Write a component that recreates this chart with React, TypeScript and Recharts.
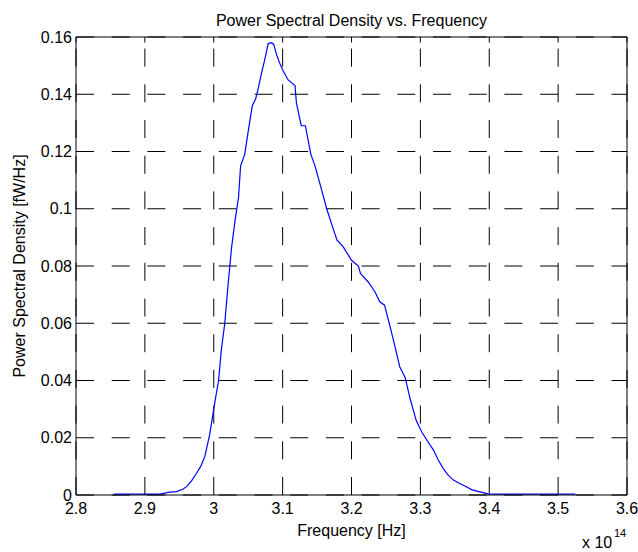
import React from "react";
import { LineChart, Line, XAxis, YAxis, CartesianGrid, ReferenceLine } from "recharts";

const freq = [
  2.855, 2.88, 2.9, 2.92, 2.925, 2.936, 2.946, 2.955, 2.961, 2.968, 2.975, 2.981, 2.987, 2.994,
  3.002, 3.007, 3.011, 3.016, 3.021, 3.026, 3.031, 3.036, 3.039, 3.045, 3.05, 3.056, 3.061, 3.065,
  3.069, 3.074, 3.079, 3.084, 3.087, 3.091, 3.096, 3.101, 3.108, 3.118, 3.12, 3.127, 3.133, 3.141,
  3.147, 3.155, 3.164, 3.172, 3.179, 3.188, 3.2, 3.21, 3.213, 3.224, 3.234, 3.241, 3.248, 3.256,
  3.263, 3.27, 3.278, 3.285, 3.294, 3.302, 3.311, 3.319, 3.326, 3.333, 3.34, 3.348, 3.357, 3.366,
  3.375, 3.385, 3.398, 3.41, 3.45, 3.5, 3.525,
];
const psd = [
  0.0003, 0.0003, 0.0003, 0.0003, 0.0005, 0.001, 0.0012, 0.002, 0.003, 0.005, 0.0076, 0.01, 0.0134, 0.021,
  0.033, 0.04, 0.0506, 0.06, 0.074, 0.0867, 0.096, 0.104, 0.115, 0.119, 0.127, 0.136, 0.1385, 0.1425,
  0.147, 0.152, 0.1577, 0.158, 0.1574, 0.154, 0.1507, 0.148, 0.145, 0.143, 0.137, 0.129, 0.129, 0.119,
  0.115, 0.108, 0.1, 0.094, 0.089, 0.0867, 0.082, 0.08, 0.0774, 0.0745, 0.071, 0.0675, 0.0663, 0.0588,
  0.052, 0.0448, 0.041, 0.0337, 0.026, 0.022, 0.0186, 0.0157, 0.0122, 0.0093, 0.007, 0.0052, 0.004, 0.003,
  0.0018, 0.0012, 0.0004, 0.0003, 0.0003, 0.0003, 0.0003,
];
const xTicks = [2.8, 2.9, 3.0, 3.1, 3.2, 3.3, 3.4, 3.5, 3.6];
const yTicks = [0, 0.02, 0.04, 0.06, 0.08, 0.1, 0.12, 0.14, 0.16];

const title = "Power Spectral Density vs. Frequency";
const xLabel = "Frequency [Hz]";
const yLabel = "Power Spectral Density [fW/Hz]";
const exponent = "14";

const data = freq.map((f, i) => ({ f, p: psd[i] }));

const FONT = "'Liberation Sans', Arial, sans-serif";
const FS = 16;
const W = 638;
const H = 552;
const M = { top: 37, right: 11, bottom: 0, left: 0 };
const Y_W = 76;
const X_H = 57;
const DASH = "18 17.7";

const fmt = (v: number) => String(Number(v.toFixed(2)));

const vLine = (props: any) => {
  const { x1, y1, x2, y2 } = props;
  const top = Math.min(y1, y2);
  const bot = Math.max(y1, y2);
  return (
    <g key={props.key ?? `v-${x1}`}>
      <line x1={x1} y1={bot} x2={x2} y2={top} stroke="#000" strokeWidth={1} strokeDasharray={DASH} />
      <line x1={x1} y1={top} x2={x2} y2={top + 5.5} stroke="#000" strokeWidth={1} />
    </g>
  );
};

const hLine = (props: any) => {
  const { x1, y1, x2, y2 } = props;
  return (
    <line
      key={props.key ?? `h-${y1}`}
      x1={Math.min(x1, x2)}
      y1={y1}
      x2={Math.max(x1, x2)}
      y2={y2}
      stroke="#000"
      strokeWidth={1}
      strokeDasharray={DASH}
    />
  );
};

export default function App() {
  const plotCx = (Y_W + (W - M.right)) / 2;
  const plotCy = (M.top + (H - X_H)) / 2;
  return (
    <div style={{ position: "absolute", left: 0, top: 0, width: W, height: H, background: "#fff" }}>
      <LineChart width={W} height={H} data={data} margin={M} style={{ fontFamily: FONT }}>
        <CartesianGrid horizontal={hLine} vertical={false} />
        <CartesianGrid horizontal={false} vertical={vLine} />
        <XAxis
          dataKey="f"
          type="number"
          domain={[2.8, 3.6]}
          ticks={xTicks}
          tickFormatter={fmt}
          height={X_H}
          tickLine={false}
          tickSize={0}
          tickMargin={8}
          axisLine={{ stroke: "#000", strokeWidth: 1 }}
          tick={{ fill: "#000", fontSize: FS, fontFamily: FONT }}
          allowDataOverflow
        />
        <YAxis
          type="number"
          domain={[0, 0.16]}
          ticks={yTicks}
          tickFormatter={fmt}
          width={Y_W}
          tickLine={false}
          tickSize={0}
          tickMargin={4}
          axisLine={{ stroke: "#000", strokeWidth: 1 }}
          tick={{ fill: "#000", fontSize: FS, fontFamily: FONT }}
          allowDataOverflow
        />
        <ReferenceLine y={0.16} stroke="#000" strokeWidth={1} ifOverflow="visible" />
        <ReferenceLine x={3.6} stroke="#000" strokeWidth={1} ifOverflow="visible" />
        <Line
          type="linear"
          dataKey="p"
          stroke="#0000ff"
          strokeWidth={1.2}
          dot={false}
          activeDot={false}
          isAnimationActive={false}
        />
        <text x={plotCx} y={26} textAnchor="middle" fontSize={FS} fontFamily={FONT} fill="#000">
          {title}
        </text>
        <text x={plotCx} y={536} textAnchor="middle" fontSize={FS} fontFamily={FONT} fill="#000">
          {xLabel}
        </text>
        <text
          x={25}
          y={plotCy}
          textAnchor="middle"
          fontSize={FS}
          fontFamily={FONT}
          fill="#000"
          transform={`rotate(-90 25 ${plotCy})`}
        >
          {yLabel}
        </text>
        <text x={582} y={548} fontSize={FS} fontFamily={FONT} fill="#000">
          x 10
        </text>
        <text x={614} y={537} fontSize={11} fontFamily={FONT} fill="#000">
          {exponent}
        </text>
      </LineChart>
    </div>
  );
}
